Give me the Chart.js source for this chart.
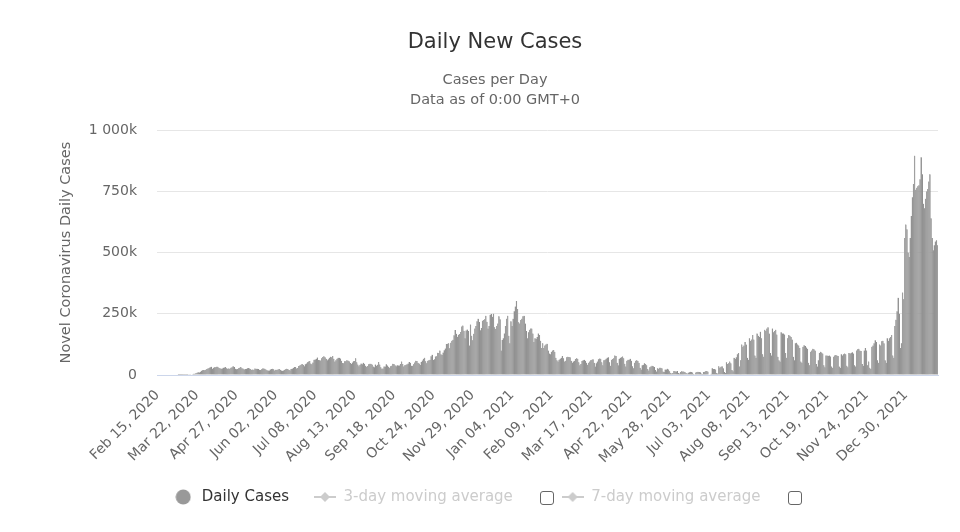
<!DOCTYPE html>
<html>
<head>
<meta charset="utf-8">
<title>Daily New Cases</title>
<script src="https://cdn.jsdelivr.net/npm/chart.js@4.4.0/dist/chart.umd.min.js"></script>
<style>
  html, body { margin: 0; padding: 0; background: #fff; }
  #chart { display: block; }
</style>
</head>
<body>
<canvas id="chart" width="960" height="532"></canvas>
<script>
// daily new cases in thousands
const feb2020 = [0,0,0,0,0,0,0,0,0,0,0,0,0,0,0];
const mar2020 = [0,0,0,0,0.1,0.1,0.1,0.1,0.2,0.3,0.4,0.5,0.5,0.7,0.8,1,1.8,3,4.7,5.6,7,9,11,10,13,17,19,20,19,21,25];
const apr2020 = [27,29,32,34,26,30,32,32,34,34,30,28,26,27,30,31,33,28,26,27,26,30,32,36,33,26,23,25,28,30];
const may2020 = [33,28,27,22,24,25,28,29,27,24,20,22,21,27,26,26,25,21,20,23,27,27,26,22,19,18,18,22,24,26,23];
const jun2020 = [18,21,21,22,25,21,18,17,18,21,23,26,25,20,19,24,26,29,33,33,27,29,37,39,42,45,42,36,44,47];
const jul2020 = [52,55,57,47,44,51,62,63,66,71,61,60,59,68,74,77,72,66,60,64,70,75,72,78,66,55,60,66,70,70,67];
const aug2020 = [58,49,48,56,56,60,59,56,49,45,51,56,57,68,52,43,36,42,47,44,50,46,38,34,37,44,46,46,43,35,32];
const sep2020 = [43,38,42,53,43,32,26,27,35,35,44,39,34,30,36,38,46,45,40,36,40,39,39,45,55,45,35,40,42,44];
const oct2020 = [47,53,50,38,38,44,51,58,57,50,47,41,53,59,66,70,56,48,58,60,62,77,83,61,64,76,77,91,90,100,85];
const nov2020 = [82,92,101,108,127,128,130,109,132,140,144,162,184,168,156,164,167,176,198,202,181,150,182,186,180,120,206,160,142,168];
const dec2020 = [190,200,220,230,216,183,192,222,225,228,242,218,190,200,246,249,238,250,195,188,200,210,240,228,100,143,150,170,200,230,242];
const jan2021 = [160,130,220,200,230,260,280,302,270,215,210,225,230,240,242,210,180,150,175,185,190,190,170,135,150,148,155,170,163,140,110];
const feb2021 = [130,110,120,125,128,100,88,85,95,100,102,95,70,60,55,62,66,70,78,68,55,58,72,75,74,72,58,50];
const mar2021 = [55,58,65,68,66,52,40,45,57,60,62,58,50,42,50,55,60,62,64,50,35,48,55,64,67,66,52,40,60,62,66];
const apr2021 = [70,72,52,38,62,65,68,80,78,50,40,66,70,72,76,68,46,35,58,62,62,66,58,36,28,50,58,60,58,50];
const may2021 = [30,22,40,42,48,45,40,25,18,32,35,38,36,33,20,14,28,26,30,30,28,14,12,22,22,26,22,15,8,6,8];
const jun2021 = [16,15,14,16,8,6,12,15,14,14,12,8,5,9,11,13,12,10,4,3,10,12,13,12,11,6,4,12,13,15];
const jul2021 = [16,14,3,2,5,28,24,25,22,8,6,36,30,34,36,28,12,8,52,45,48,55,48,20,15,70,65,72,85,90,35];
const aug2021 = [60,125,115,120,135,125,70,62,150,140,145,163,145,80,70,170,160,155,177,150,85,75,185,180,190,195,170,90,80,190,175];
const sep2021 = [180,185,165,75,60,55,175,170,170,165,90,70,150,163,160,155,145,75,60,130,132,125,120,110,55,50,115,122,118,112];
const oct2021 = [107,50,40,95,100,107,105,100,45,35,60,90,95,92,88,40,32,80,80,78,80,76,35,30,75,80,82,80,78,35,30];
const nov2021 = [85,80,85,88,85,38,32,90,88,90,93,88,40,35,100,105,107,100,98,45,38,100,110,100,40,55,30,25,115,120];
const dec2021 = [130,142,135,60,50,125,120,138,140,130,60,50,150,140,150,155,163,80,70,200,226,260,316,250,110,130,337,309,560,615,595];
const jan2022 = [500,482,560,650,726,780,896,757,765,771,775,800,889,820,700,681,720,750,760,790,820,640,560,510,530,545,550,530];

const firstDay = [2020, 1, 15];   // Feb 15, 2020
const tickEvery = 36;             // one date label every 36 days
const yTicks = [0, 250000, 500000, 750000, 1000000];
const legendNames = ['Daily Cases', '3-day moving average', '7-day moving average'];

const dailyK = [].concat(feb2020, mar2020, apr2020, may2020, jun2020, jul2020, aug2020,
  sep2020, oct2020, nov2020, dec2020, jan2021, feb2021, mar2021, apr2021, may2021,
  jun2021, jul2021, aug2021, sep2021, oct2021, nov2021, dec2021, jan2022);
const dailyCases = dailyK.map(v => Math.round(v * 1000));

const MONTHS = ['Jan','Feb','Mar','Apr','May','Jun','Jul','Aug','Sep','Oct','Nov','Dec'];
const labels = dailyCases.map((_, i) => {
  const d = new Date(Date.UTC(firstDay[0], firstDay[1], firstDay[2] + i));
  return MONTHS[d.getUTCMonth()] + ' ' + String(d.getUTCDate()).padStart(2, '0') + ', ' + d.getUTCFullYear();
});

const FONT = '"DejaVu Sans", sans-serif';

// legend symbols
function symbol(kind, color) {
  const c = document.createElement('canvas');
  const g = c.getContext('2d');
  if (kind === 'circle') {
    c.width = 16; c.height = 16;
    g.fillStyle = color;
    g.beginPath(); g.arc(8, 8, 7.5, 0, Math.PI * 2); g.fill();
  } else {
    c.width = 22; c.height = 12;
    g.strokeStyle = color; g.lineWidth = 2;
    g.beginPath(); g.moveTo(0, 6); g.lineTo(22, 6); g.stroke();
    g.fillStyle = color;
    g.beginPath(); g.moveTo(11, 1); g.lineTo(16, 6); g.lineTo(11, 11); g.lineTo(6, 6); g.closePath(); g.fill();
  }
  return c;
}
const symbols = [symbol('circle', '#999999'), symbol('line', '#cccccc'), symbol('line', '#cccccc')];
const legendPad = ['', ' '.repeat(5), ' '.repeat(12)];

// the empty checkboxes after the two moving-average entries
const checkboxes = {
  id: 'checkboxes',
  afterDraw(chart) {
    const lg = chart.legend, ctx = chart.ctx;
    ctx.save();
    ctx.font = '15px ' + FONT;
    ctx.strokeStyle = '#666';
    ctx.lineWidth = 1;
    [1, 2].forEach(i => {
      const hb = lg.legendHitBoxes[i];
      const x = Math.round(hb.left + 22 + 7.5 + ctx.measureText(legendNames[i]).width + 27);
      const y = Math.round(hb.top + hb.height / 2 - 6);
      ctx.beginPath();
      ctx.roundRect(x + 0.5, y + 0.5, 13, 13, 2.5);
      ctx.stroke();
    });
    ctx.restore();
  }
};

new Chart(document.getElementById('chart'), {
  type: 'bar',
  data: {
    labels: labels,
    datasets: [{
      label: legendNames[0],
      data: dailyCases,
      backgroundColor: '#a4a4a4',
      borderColor: '#7d7d7d',
      borderWidth: { left: 0, top: 0, bottom: 0, right: 1 },
      borderSkipped: false,
      barPercentage: 1,
      categoryPercentage: 1
    }]
  },
  options: {
    responsive: false,
    animation: false,
    layout: { padding: { left: 52, right: 22, top: 0, bottom: 17.5 } },
    plugins: {
      title: {
        display: true,
        text: 'Daily New Cases',
        color: '#333333',
        font: { family: FONT, size: 21, weight: 'normal' },
        padding: { top: 30, bottom: 15 }
      },
      subtitle: {
        display: true,
        text: ['Cases per Day', 'Data as of 0:00 GMT+0'],
        color: '#666666',
        font: { family: FONT, size: 14.5, lineHeight: '20px' },
        padding: { top: 0, bottom: 20 }
      },
      legend: {
        position: 'bottom',
        onClick: null,
        labels: {
          usePointStyle: true,
          pointStyleWidth: 22,
          padding: 25,
          font: { family: FONT, size: 15 },
          generateLabels: () => legendNames.map((name, i) => ({
            text: name + legendPad[i],
            pointStyle: symbols[i],
            fontColor: i === 0 ? '#333333' : '#cccccc',
            fillStyle: 'transparent',
            strokeStyle: 'transparent',
            lineWidth: 0,
            hidden: false,
            datasetIndex: i
          }))
        }
      },
      tooltip: { enabled: false }
    },
    scales: {
      x: {
        grid: { display: false, drawTicks: false },
        border: { display: true, color: '#ccd6eb' },
        afterBuildTicks: s => { s.ticks = s.ticks.filter(t => t.value % tickEvery === 0); },
        afterFit: s => { s.height = 89.5; },
        ticks: {
          autoSkip: false,
          minRotation: 45,
          maxRotation: 45,
          padding: 12,
          color: '#666666',
          font: { family: FONT, size: 14 }
        }
      },
      y: {
        min: 0,
        max: 1000000,
        afterBuildTicks: s => { s.ticks = yTicks.map(v => ({ value: v })); },
        afterFit: s => { s.width = 105; },
        grid: { color: '#e6e6e6', drawTicks: false },
        border: { display: false },
        ticks: {
          padding: 20,
          color: '#666666',
          font: { family: FONT, size: 14 },
          callback: v => v === 0 ? '0' : String(v / 1000).replace(/\B(?=(\d{3})+(?!\d))/g, ' ') + 'k'
        },
        title: {
          display: true,
          text: 'Novel Coronavirus Daily Cases',
          color: '#666666',
          font: { family: FONT, size: 14.5 },
          padding: { top: 6, bottom: 0 }
        }
      }
    }
  },
  plugins: [checkboxes]
});
</script>
</body>
</html>
